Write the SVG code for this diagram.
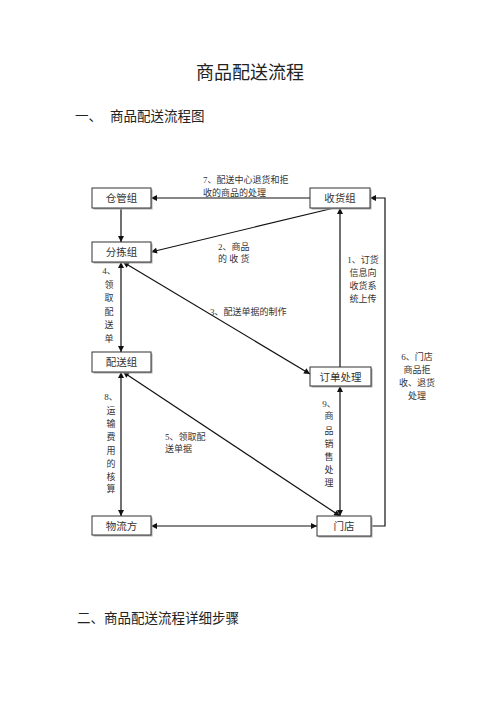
<svg xmlns="http://www.w3.org/2000/svg" width="500" height="707" viewBox="0 0 500 707">
<style>
text{font-family:"Liberation Serif","Noto Sans CJK SC",serif;fill:#222}
.h{font-size:18px}
.s{font-size:13.5px}
.box rect.f{fill:#fff;stroke:#333;stroke-width:1}
.box rect.sh{fill:#aaa}
.box text{font-size:10.5px;text-anchor:middle;fill:#333}
.lbl{font-size:9px;fill:#333}
.lc{font-size:9px;text-anchor:middle;fill:#333}
#connectors line,#connectors polyline{stroke:#111;stroke-width:1.2;fill:none}
</style>
<defs>
<marker id="a" viewBox="0 0 10 10" refX="10" refY="5" markerWidth="7" markerHeight="6" markerUnits="userSpaceOnUse" orient="auto-start-reverse">
<path d="M0,0L10,5L0,10z" fill="#111"/>
</marker>
</defs>
<rect width="500" height="707" fill="#fff"/>
<text class="h" x="250" y="79" text-anchor="middle">商品配送流程</text>
<text class="s" x="75" y="121">一、</text>
<text class="s" x="110" y="121">商品配送流程图</text>
<text class="s" x="77" y="623">二、商品配送流程详细步骤</text>

<g id="connectors">
<line x1="310" y1="198" x2="151" y2="198" marker-end="url(#a)"/>
<line x1="121" y1="208" x2="121" y2="242" marker-end="url(#a)"/>
<line x1="334" y1="208" x2="151" y2="252" marker-end="url(#a)"/>
<line x1="340" y1="367" x2="340" y2="208" marker-end="url(#a)"/>
<line x1="123" y1="262" x2="310" y2="374" marker-start="url(#a)" marker-end="url(#a)"/>
<line x1="121" y1="262" x2="121" y2="352" marker-start="url(#a)" marker-end="url(#a)"/>
<line x1="121" y1="372" x2="121" y2="516" marker-start="url(#a)" marker-end="url(#a)"/>
<line x1="123" y1="372" x2="340" y2="516" marker-start="url(#a)" marker-end="url(#a)"/>
<line x1="340" y1="516" x2="340" y2="386" marker-start="url(#a)" marker-end="url(#a)"/>
<line x1="151" y1="526" x2="317" y2="526" marker-start="url(#a)" marker-end="url(#a)"/>
<polyline points="371,526 385,526 385,198 370,198" marker-end="url(#a)"/>
</g>

<g id="labels">
<text class="lbl" x="203" y="183">7、配送中心退货和拒</text>
<text class="lbl" x="203" y="196">收的商品的处理</text>
<text class="lbl" x="218" y="250">2、商品</text>
<text class="lbl" x="218" y="262">的 收 货</text>
<text class="lc" x="363" y="263">1、订货</text>
<text class="lc" x="363" y="276">信息向</text>
<text class="lc" x="363" y="289">收货系</text>
<text class="lc" x="363" y="302">统上传</text>
<text class="lbl" x="210" y="315">3、配送单据的制作</text>
<text class="lc" x="109" y="274">4、</text>
<text class="lc" x="109" y="288">领</text>
<text class="lc" x="109" y="301">取</text>
<text class="lc" x="109" y="315">配</text>
<text class="lc" x="109" y="328">送</text>
<text class="lc" x="109" y="342">单</text>
<text class="lc" x="417" y="360">6、门店</text>
<text class="lc" x="417" y="373">商品拒</text>
<text class="lc" x="417" y="386">收、退货</text>
<text class="lc" x="417" y="399">处理</text>
<text class="lc" x="111" y="400">8、</text>
<text class="lc" x="111" y="414">运</text>
<text class="lc" x="111" y="427">输</text>
<text class="lc" x="111" y="440">费</text>
<text class="lc" x="111" y="454">用</text>
<text class="lc" x="111" y="467">的</text>
<text class="lc" x="111" y="480">核</text>
<text class="lc" x="111" y="492">算</text>
<text class="lbl" x="165" y="440">5、领取配</text>
<text class="lbl" x="165" y="452">送单据</text>
<text class="lc" x="329" y="407">9、</text>
<text class="lc" x="329" y="419">商</text>
<text class="lc" x="329" y="434">品</text>
<text class="lc" x="329" y="447">销</text>
<text class="lc" x="329" y="460">售</text>
<text class="lc" x="329" y="473">处</text>
<text class="lc" x="329" y="486">理</text>
</g>

<g id="n-cangguan" class="box"><rect class="sh" x="93.5" y="189.5" width="59" height="20"/><rect class="f" x="92" y="188" width="59" height="20"/><text x="121.5" y="202">仓管组</text></g>
<g id="n-shouhuo" class="box"><rect class="sh" x="311.5" y="189.5" width="60" height="20"/><rect class="f" x="310" y="188" width="60" height="20"/><text x="340" y="202">收货组</text></g>
<g id="n-fenjian" class="box"><rect class="sh" x="93.5" y="243.5" width="59" height="20"/><rect class="f" x="92" y="242" width="59" height="20"/><text x="121.5" y="256">分拣组</text></g>
<g id="n-peisong" class="box"><rect class="sh" x="93.5" y="353.5" width="59" height="20"/><rect class="f" x="92" y="352" width="59" height="20"/><text x="121.5" y="366">配送组</text></g>
<g id="n-dingdan" class="box"><rect class="sh" x="311.5" y="368.5" width="61" height="19"/><rect class="f" x="310" y="367" width="61" height="19"/><text x="340.5" y="380.5">订单处理</text></g>
<g id="n-wuliu" class="box"><rect class="sh" x="93.5" y="517.5" width="59" height="19"/><rect class="f" x="92" y="516" width="59" height="19"/><text x="121.5" y="529.5">物流方</text></g>
<g id="n-mendian" class="box"><rect class="sh" x="318.5" y="517.5" width="54" height="20"/><rect class="f" x="317" y="516" width="54" height="20"/><text x="344" y="530">门店</text></g>
</svg>
